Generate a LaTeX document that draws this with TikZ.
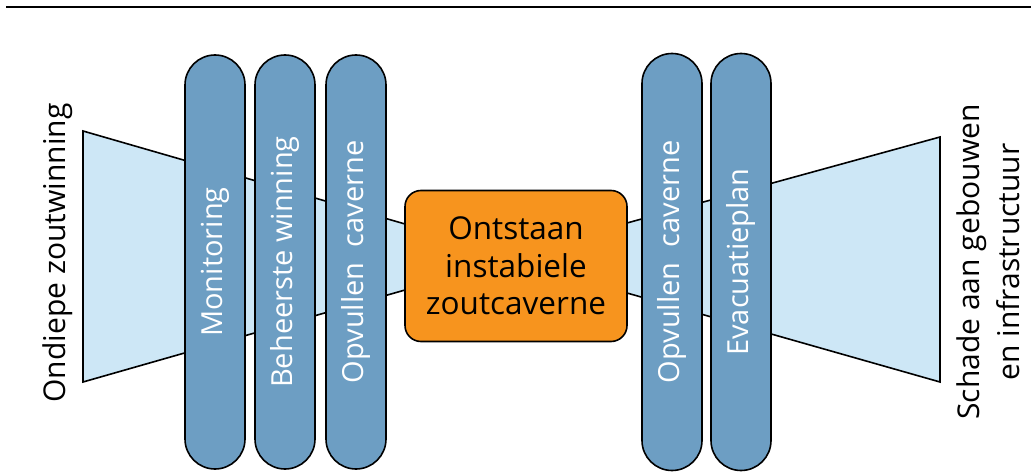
\documentclass[tikz,border=0pt]{standalone}
\usepackage{fontspec}
\setmainfont{Open Sans}
\usetikzlibrary{positioning}
\definecolor{trapblue}{HTML}{CDE7F6}
\definecolor{pillblue}{HTML}{6D9EC3}
\definecolor{toporanje}{HTML}{F7941E}
\tikzset{
  barriere/.style = {rectangle, rounded corners=30pt, draw=black, line width=1.6pt,
    fill=pillblue, text=white, rotate=90, minimum width=414pt, minimum height=60pt,
    inner sep=0pt, font=\fontsize{29}{32}\selectfont},% barriere
  gebeurtenis/.style = {rectangle, rounded corners=16pt, draw=black, line width=1.6pt,
    fill=toporanje, align=center, minimum width=222pt, minimum height=151pt,
    inner sep=0pt, font=\fontsize{31.5}{37.5}\selectfont},% top event
  zijlabel/.style = {rotate=90, align=center, inner sep=0pt,
    font=\fontsize{30}{40}\selectfont},% oorzaak / gevolg
  trechter/.style = {draw=black, line width=1.6pt, fill=trapblue}
}
\begin{document}
\begin{tikzpicture}[x=1pt,y=-1pt]
        \useasboundingbox (0,0) rectangle (1031,473);
        \draw [line width=2pt] (6,7) -- (1031,7);
        % trechters
        \draw [trechter] (83,131) -- (405,224) -- (405,290) -- (83,382) -- cycle;
        \draw [trechter] (627,223) -- (940,137) -- (940,382) -- (627,293) -- cycle;
        % barrieres links
        \node [barriere](monitor) at (215,262) {Monitoring};
        \node [barriere](beheer) at (285,262) {Beheerste winning};
        \node [barriere](opvulL) at (356,262) {Opvullen\ \ caverne};
        % top event
        \node [gebeurtenis](top) at (516,266) {Ontstaan\\instabiele\\zoutcaverne};
        % barrieres rechts
        \node [barriere, minimum width=417pt](opvulR) at (672,262) {Opvullen\ \ caverne};
        \node [barriere, minimum width=417pt](evac) at (741,262) {Evacuatieplan};
        % oorzaak en gevolg
        \node [zijlabel](oorzaak) at (58,253) {Ondiepe zoutwinning};
        \node [zijlabel](gevolg) at (988,262) {Schade aan gebouwen\\en infrastructuur};
\end{tikzpicture}
\end{document}
